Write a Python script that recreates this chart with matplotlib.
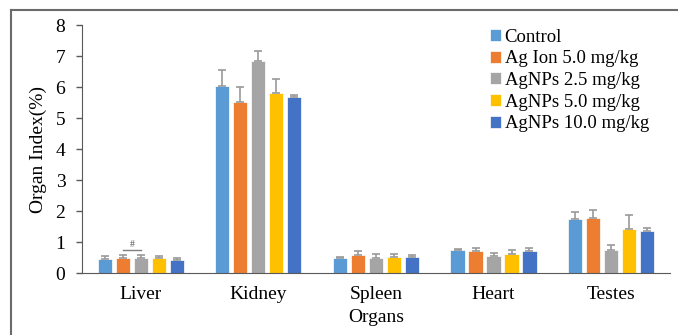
import numpy as np
import matplotlib.pyplot as plt
from matplotlib.lines import Line2D

plt.rcParams['font.family'] = ['Liberation Serif', 'DejaVu Serif']

organs = ['Liver', 'Kidney', 'Spleen', 'Heart', 'Testes']
grupos = ['Control', 'Ag Ion 5.0 mg/kg', 'AgNPs 2.5 mg/kg', 'AgNPs 5.0 mg/kg', 'AgNPs 10.0 mg/kg']
colores = ['#5B9BD5', '#ED7D31', '#A5A5A5', '#FFC000', '#4472C4']

# medias del indice de organo (%) por grupo
control = [0.45, 6.02, 0.47, 0.74, 1.73]
ag_ion = [0.49, 5.53, 0.59, 0.72, 1.78]
agnps_25 = [0.49, 6.84, 0.49, 0.56, 0.73]
agnps_5 = [0.47, 5.82, 0.52, 0.63, 1.43]
agnps_10 = [0.43, 5.69, 0.52, 0.72, 1.35]

# desviaciones (solo se dibuja la parte superior)
sd_control = [0.10, 0.53, 0.06, 0.04, 0.23]
sd_ag_ion = [0.08, 0.48, 0.12, 0.09, 0.27]
sd_agnps_25 = [0.09, 0.33, 0.12, 0.10, 0.17]
sd_agnps_5 = [0.08, 0.45, 0.11, 0.10, 0.43]
sd_agnps_10 = [0.07, 0.06, 0.06, 0.08, 0.09]

medias = [control, ag_ion, agnps_25, agnps_5, agnps_10]
desvios = [sd_control, sd_ag_ion, sd_agnps_25, sd_agnps_5, sd_agnps_10]

fig = plt.figure(figsize=(6.78, 3.35), dpi=100)
ax = fig.add_axes([0.121, 0.185, 0.867, 0.74])

x = np.arange(len(organs))
paso = 0.153
ancho = 0.12
for i in range(len(grupos)):
    pos = x + (i - 2) * paso
    y = np.array(medias[i])
    err = np.array(desvios[i])
    ax.bar(pos, y, ancho, color=colores[i], edgecolor='white', linewidth=0.5,
           label=grupos[i], zorder=2)
    ax.errorbar(pos, y, yerr=[np.zeros_like(err), err], fmt='none',
                ecolor='#9a9a9a', elinewidth=1.2, capsize=3, capthick=1.2, zorder=3)

# marca de significancia en higado
ax.plot([x[0] - paso, x[0]], [0.74, 0.74], color='#7f7f7f', lw=1)
ax.text(x[0] - paso / 2, 0.78, '#', ha='center', va='bottom', fontsize=7, color='#555555')

ax.set_xlim(-0.5, 4.5)
ax.set_ylim(0, 8)
ax.set_yticks(range(0, 9))
ax.set_xticks(x)
ax.set_xticklabels(organs)
ax.tick_params(axis='x', length=0, pad=9, labelsize=14)
ax.tick_params(axis='y', length=4, width=1, color='#595959', labelsize=14, pad=8)
for s in ['top', 'right']:
    ax.spines[s].set_visible(False)
for s in ['left', 'bottom']:
    ax.spines[s].set_color('#595959')
ax.set_ylabel('Organ Index(%)', fontsize=14, labelpad=6)
ax.set_xlabel('Organs', fontsize=14, labelpad=5)

ax.legend(loc='upper right', bbox_to_anchor=(0.977, 1.016), frameon=False, fontsize=13.5,
          handlelength=0.6, handleheight=0.6, handletextpad=0.2, labelspacing=0.25,
          borderaxespad=0)

# marco exterior: linea superior e izquierda
fig.add_artist(Line2D([11 / 678, 1.0], [1 - 10 / 335, 1 - 10 / 335], color='#6b6b6b', lw=1.5))
fig.add_artist(Line2D([11 / 678, 11 / 678], [0, 1 - 10 / 335], color='#6b6b6b', lw=1.5))

fig.savefig('out.png', dpi=100)
